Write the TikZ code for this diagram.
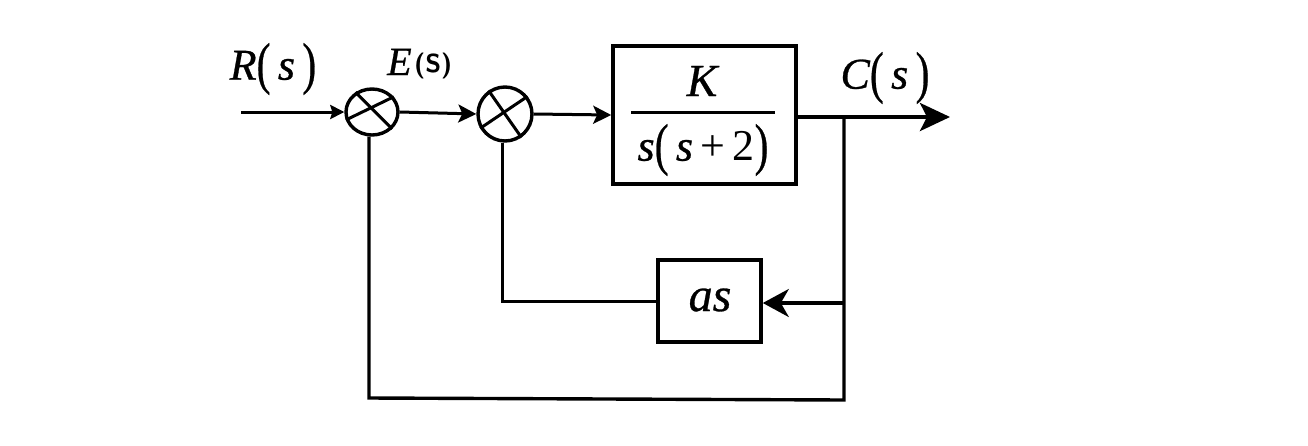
\documentclass[tikz,border=0pt]{standalone}
\usepackage{fontspec}
\usepackage{graphicx}
\setmainfont{Liberation Serif}[ItalicFeatures={FakeBold=0.6}]
\usetikzlibrary{shapes.geometric,arrows.meta}
\newcommand{\tallp}[1]{\raisebox{-0.07em}{\scalebox{0.95}[1.3]{\addfontfeatures{FakeBold=0.6}\upshape #1}}}
\tikzset{
  x=1pt,y=-1pt,
  wire/.style={line width=3pt,line join=miter,draw=black},
  heavy/.style={line width=4pt,draw=black},
  tip/.style={-{Stealth[length=30pt,width=28pt,inset=7pt]}},
  midtip/.style={-{Stealth[length=26pt,width=28pt,inset=8pt]}},
  labeltext/.style={inner sep=0pt,font=\fontsize{44}{50}\selectfont\itshape},
  sumj/.style={ellipse,draw=black,line width=3.4pt,inner sep=0pt,minimum width=52pt,minimum height=46pt},
  crossline/.style={line width=3pt,draw=black},
  blockbox/.style={rectangle,draw=black,line width=3.6pt,inner sep=0pt}
}
\begin{document}
\begin{tikzpicture}
\useasboundingbox[fill=white] (0,0) rectangle (1308,445);
% nodes
\node[sumj] (s1) at (372,112) {};
\node[sumj,minimum width=54pt,minimum height=54pt] (s2) at (505,114) {};
\node[blockbox,minimum width=183pt,minimum height=138pt] (g) at (704.5,115) {};
\node[blockbox,minimum width=103pt,minimum height=82pt] (h) at (709.5,301) {};
% crosses
\draw[crossline] (s1.130) -- (s1.-40);
\draw[crossline] (s1.-163) -- (s1.35);
\draw[crossline] (s2.125) -- (s2.-55);
\draw[crossline] (s2.-150) -- (s2.38);
% labels
\node[labeltext] (r) at (273,69) {R\tallp{(}\,s\,\tallp{)}};
\node[labeltext,font=\fontsize{40}{46}\selectfont\itshape,anchor=base west] (e) at (387,75) {E};
\node[inner sep=0pt,font=\sffamily\bfseries\fontsize{26}{28}\selectfont,anchor=base west] (es) at (414,72) {(S)};
\node[labeltext] (c) at (885,78) {C\tallp{(}\,s\,\tallp{)}};
\node[labeltext,font=\fontsize{46}{50}\selectfont\itshape] (k) at (702,81) {K};
\node[labeltext,font=\fontsize{44}{50}\selectfont\itshape] (d) at (703,150) {s\tallp{(}\,s\,{\upshape +\,2}\tallp{)}};
\node[labeltext,font=\fontsize{48}{50}\selectfont\itshape] (as) at (710,300) {as};
% fraction bar
\coordinate (fa) at (631,112);
\coordinate (fb) at (775,112);
\draw[line width=3pt,draw=black] (fa) -- (fb);
% connectors
\coordinate (in) at (241,112);
\coordinate (out) at (950,117);
\coordinate (j) at (844,117);
\coordinate (jh) at (844,303);
\coordinate (bl) at (369,398);
\coordinate (br) at (844,400);
\draw[wire,-{Stealth[length=14pt,width=14pt,inset=2pt]}] (in) -- (s1.west);
\draw[wire,-{Stealth[length=18pt,width=18pt,inset=4pt]}] (s1.east) -- (s2.west);
\draw[wire,-{Stealth[length=18pt,width=18pt,inset=4pt]}] (s2.east) -- (g.west);
\draw[heavy,tip] (g.east |- out) -- (out);
\draw[wire,line width=3.4pt] (j) -- (br) -- (bl) -- (s1.south -| bl);
\draw[wire,line width=3.4pt,midtip] (jh) -- (h.east |- jh);
\draw[wire] (h.west) -- (502,301) -- (s2.south -| 502,0);
\end{tikzpicture}
\end{document}
